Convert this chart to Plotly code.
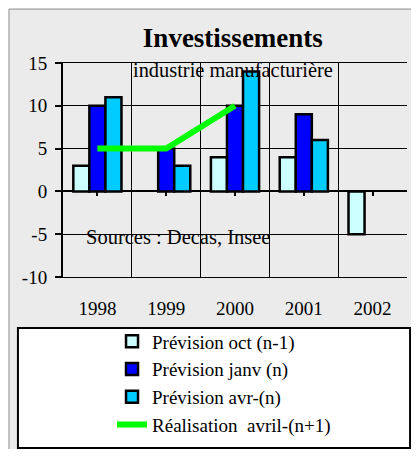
import plotly.graph_objects as go

# données
annees = ["1998", "1999", "2000", "2001", "2002"]
prev_oct = [3, None, 4, 4, -5]
prev_janv = [10, 5, 10, 9, None]
prev_avr = [11, 3, 14, 6, None]
realisation = [5, 5, 10, None, None]
y_ticks = [-10, -5, 0, 5, 10, 15]
y_labels = ["-10", "-5", "0", "5", "10", "15"]

x_pos = list(range(len(annees)))
serif = "Liberation Serif, Times New Roman, serif"

fig = go.Figure()
fig.add_trace(go.Bar(x=x_pos, y=prev_oct, name="Prévision oct (n-1)", legendgroup="a",
                     marker=dict(color="#CCFFFF", line=dict(color="black", width=2.5))))
fig.add_trace(go.Bar(x=x_pos, y=prev_janv, name="Prévision janv (n)", legendgroup="b",
                     marker=dict(color="#0000FF", line=dict(color="black", width=2.5))))
fig.add_trace(go.Bar(x=x_pos, y=prev_avr, name="Prévision avr-(n)", legendgroup="c",
                     marker=dict(color="#00CCFF", line=dict(color="black", width=2.5))))
fig.add_trace(go.Scatter(x=x_pos, y=realisation, name="Réalisation  avril-(n+1)", legendgroup="d",
                         mode="lines", line=dict(color="#00FF00", width=6)))

# petits traits sur l'axe du zéro, au centre des catégories
fig.add_trace(go.Scatter(x=x_pos, y=[0] * len(x_pos), xaxis="x2", mode="markers",
                         marker=dict(opacity=0), showlegend=False, hoverinfo="skip"))

# la page html ajoute 8px de marge autour de la figure -> figure réduite pour tenir dans la fenêtre
fig.update_layout(
    width=403, height=441,
    margin=dict(l=55, r=4, t=55, b=172, autoexpand=False),
    paper_bgcolor="white", plot_bgcolor="white",
    barmode="group", bargap=0.3, bargroupgap=0,
    font=dict(family=serif, size=19, color="black"),
    title=dict(text="<b>Investissements</b>", x=0.558, xanchor="center", y=0.933, yanchor="middle",
               font=dict(family=serif, size=27, color="black")),
    xaxis=dict(range=[-0.5, 4.5], tickvals=x_pos, ticktext=annees, showgrid=False, zeroline=False,
               automargin=False,
               ticks="outside", ticklen=14, tickcolor="rgba(0,0,0,0)",
               showline=True, mirror=True, linecolor="black", linewidth=1,
               minor=dict(tickvals=[0.5, 1.5, 2.5, 3.5, 4.5], showgrid=True, gridcolor="black", gridwidth=1, ticks=""),
               tickfont=dict(size=19)),
    xaxis2=dict(range=[-0.5, 4.5], overlaying="x", anchor="free", position=0.4, side="bottom",
                automargin=False,
                tickvals=x_pos, ticks="outside", ticklen=4, tickwidth=2, tickcolor="black",
                showticklabels=False, showgrid=False, zeroline=False, showline=False),
    yaxis=dict(range=[-10, 15], tickvals=y_ticks, ticktext=y_labels, automargin=False,
               showgrid=True, gridcolor="black", gridwidth=1,
               zeroline=True, zerolinecolor="black", zerolinewidth=2,
               showline=True, linecolor="black", linewidth=2,
               ticks="outside", ticklen=6, tickwidth=2, tickcolor="black",
               ticklabelstandoff=4, tickfont=dict(size=19)),
    legend=dict(x=0.1425, xanchor="left", y=-0.2127, yanchor="top", bgcolor="rgba(0,0,0,0)",
                borderwidth=0, tracegroupgap=6, traceorder="normal",
                font=dict(family=serif, size=19, color="black")),
    showlegend=True,
)

# cadre gris du graphique et boîte de la légende
fig.add_shape(type="rect", xref="paper", yref="paper", x0=-0.157, x1=1.2, y0=-0.95, y1=1.252,
              fillcolor="#EBEBEB", line=dict(color="#8A8A8A", width=1), layer="below")
fig.add_shape(type="rect", xref="paper", yref="paper", x0=-0.131, x1=1.009, y0=-0.799, y1=-0.238,
              fillcolor="white", line=dict(color="black", width=2), layer="below")

fig.add_annotation(text="industrie manufacturière", xref="paper", yref="paper", x=0.494, y=0.967,
                   xanchor="center", yanchor="middle",
                   showarrow=False, font=dict(family=serif, size=20.4, color="black"))
fig.add_annotation(text="Sources : Decas, Insee", xref="paper", yref="paper", x=0.061, xanchor="left",
                   y=0.187, yanchor="middle", showarrow=False, font=dict(family=serif, size=20.5, color="black"))

fig.write_html("out.html")
